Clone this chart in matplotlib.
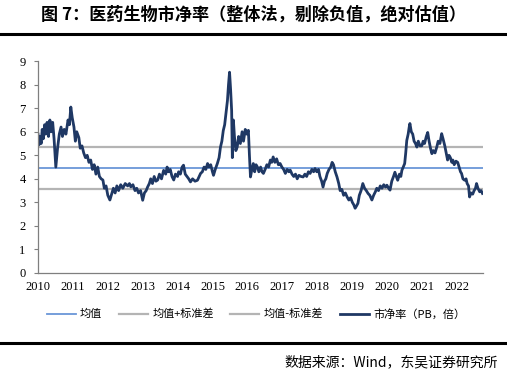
import matplotlib
matplotlib.use("Agg")
import matplotlib.pyplot as plt
from matplotlib.lines import Line2D

plt.rcParams['font.family'] = ['Noto Sans CJK SC', 'DejaVu Sans']

# ---- data ----
years = [
    2010.00, 2010.03, 2010.06, 2010.09, 2010.12, 2010.15, 2010.19, 2010.22, 2010.26, 2010.30,
    2010.34, 2010.38, 2010.42, 2010.46, 2010.51, 2010.56, 2010.61, 2010.66, 2010.70, 2010.75,
    2010.80, 2010.86, 2010.90, 2010.94, 2010.98, 2011.03, 2011.07, 2011.11, 2011.17, 2011.21,
    2011.26, 2011.31, 2011.36, 2011.41, 2011.46, 2011.51, 2011.56, 2011.61, 2011.66, 2011.71,
    2011.76, 2011.81, 2011.86, 2011.90, 2011.95, 2012.00, 2012.06, 2012.11, 2012.16, 2012.21,
    2012.26, 2012.31, 2012.37, 2012.43, 2012.50, 2012.57, 2012.62, 2012.66, 2012.72, 2012.78,
    2012.83, 2012.88, 2012.94, 2013.00, 2013.05, 2013.10, 2013.14, 2013.19, 2013.23, 2013.28,
    2013.33, 2013.38, 2013.43, 2013.48, 2013.54, 2013.60, 2013.66, 2013.70, 2013.74, 2013.79,
    2013.84, 2013.89, 2013.94, 2014.00, 2014.03, 2014.08, 2014.13, 2014.17, 2014.22, 2014.27,
    2014.32, 2014.37, 2014.43, 2014.50, 2014.57, 2014.62, 2014.66, 2014.71, 2014.76, 2014.81,
    2014.86, 2014.90, 2014.95, 2015.00, 2015.03, 2015.08, 2015.14, 2015.19, 2015.23, 2015.27,
    2015.31, 2015.35, 2015.39, 2015.43, 2015.46, 2015.49, 2015.52, 2015.55, 2015.57, 2015.60,
    2015.63, 2015.67, 2015.71, 2015.75, 2015.80, 2015.85, 2015.89, 2015.94, 2015.98, 2016.03,
    2016.06, 2016.09, 2016.13, 2016.17, 2016.21, 2016.25, 2016.29, 2016.33, 2016.38, 2016.42,
    2016.46, 2016.51, 2016.56, 2016.61, 2016.66, 2016.70, 2016.74, 2016.79, 2016.84, 2016.89,
    2016.94, 2016.99, 2017.04, 2017.09, 2017.14, 2017.19, 2017.23, 2017.28, 2017.33, 2017.38,
    2017.43, 2017.48, 2017.54, 2017.60, 2017.65, 2017.70, 2017.75, 2017.80, 2017.85, 2017.90,
    2017.94, 2017.99, 2018.04, 2018.08, 2018.13, 2018.17, 2018.21, 2018.25, 2018.29, 2018.34,
    2018.39, 2018.43, 2018.47, 2018.52, 2018.57, 2018.62, 2018.66, 2018.71, 2018.76, 2018.81,
    2018.86, 2018.91, 2018.96, 2019.01, 2019.05, 2019.09, 2019.13, 2019.17, 2019.21, 2019.26,
    2019.31, 2019.36, 2019.41, 2019.46, 2019.51, 2019.57, 2019.62, 2019.67, 2019.71, 2019.76,
    2019.81, 2019.86, 2019.91, 2019.96, 2020.00, 2020.05, 2020.09, 2020.14, 2020.19, 2020.23,
    2020.27, 2020.31, 2020.36, 2020.40, 2020.43, 2020.47, 2020.51, 2020.54, 2020.57, 2020.61,
    2020.64, 2020.66, 2020.70, 2020.74, 2020.78, 2020.82, 2020.86, 2020.90, 2020.95, 2021.00,
    2021.04, 2021.08, 2021.13, 2021.17, 2021.21, 2021.25, 2021.29, 2021.33, 2021.38, 2021.43,
    2021.47, 2021.52, 2021.57, 2021.61, 2021.66, 2021.70, 2021.74, 2021.78, 2021.82, 2021.86,
    2021.89, 2021.93, 2021.98, 2022.03, 2022.07, 2022.11, 2022.14, 2022.18, 2022.23, 2022.27,
    2022.30, 2022.34, 2022.37, 2022.41, 2022.46, 2022.50, 2022.54, 2022.57, 2022.61, 2022.66,
    2022.70, 2022.74,
]
pb = [
    5.9, 5.45, 5.8, 5.5, 6.1, 5.7, 6.3, 5.9, 6.4, 5.8,
    6.5, 6.0, 6.4, 5.7, 4.5, 5.3, 5.9, 6.2, 5.8, 6.1,
    5.9, 6.5, 6.3, 7.05, 6.6, 6.2, 5.6, 6.0, 5.75, 5.3,
    5.4, 5.1, 4.9, 5.0, 4.7, 4.8, 4.4, 4.6, 4.2, 4.5,
    4.1, 4.0, 3.95, 3.6, 3.7, 3.3, 3.1, 3.35, 3.6, 3.4,
    3.7, 3.5, 3.75, 3.6, 3.8, 3.7, 3.8, 3.66, 3.75, 3.5,
    3.6, 3.4, 3.5, 3.09, 3.4, 3.5, 3.65, 3.8, 4.0, 3.8,
    4.1, 3.9, 3.95, 4.2, 4.0, 4.36, 4.2, 4.5, 4.3, 4.4,
    4.1, 3.95, 4.2, 4.1, 4.3, 4.2, 4.5, 4.58, 4.2, 4.1,
    4.0, 3.87, 4.0, 3.9, 3.94, 4.1, 4.23, 4.3, 4.5, 4.4,
    4.65, 4.5, 4.6, 4.3, 4.15, 4.4, 4.65, 4.9, 5.35, 5.6,
    6.05, 6.3, 6.8, 7.33, 8.0, 8.53, 7.8, 6.9, 4.9, 6.5,
    5.8, 5.2, 5.35, 5.8, 5.5, 6.0, 5.6, 6.1, 5.9, 6.06,
    5.0, 4.08, 4.4, 4.65, 4.3, 4.6, 4.5, 4.3, 4.5, 4.3,
    4.23, 4.4, 4.6, 4.5, 4.8, 4.7, 4.93, 4.7, 4.85, 4.6,
    4.65, 4.5, 4.4, 4.23, 4.4, 4.3, 4.37, 4.2, 4.1, 4.2,
    4.0, 4.15, 4.1, 4.08, 4.2, 4.1, 4.3, 4.23, 4.4, 4.3,
    4.44, 4.3, 4.4, 4.1, 3.9, 3.65, 3.9, 4.0, 4.23, 4.4,
    4.5, 4.7, 4.6, 4.3, 4.08, 3.8, 3.5, 3.55, 3.3, 3.4,
    3.23, 3.1, 3.2, 3.0, 2.9, 2.75, 2.85, 2.96, 3.3, 3.5,
    3.8, 3.6, 3.5, 3.38, 3.3, 3.1, 3.3, 3.45, 3.6, 3.5,
    3.7, 3.6, 3.75, 3.65, 3.73, 3.6, 3.52, 3.9, 4.1, 4.28,
    4.1, 3.94, 4.2, 4.1, 4.36, 4.5, 4.65, 5.1, 5.63, 5.9,
    6.2, 6.35, 6.0, 5.9, 5.6, 5.5, 5.35, 5.6, 5.4, 5.4,
    5.6, 5.5, 5.8, 5.97, 5.6, 5.3, 5.07, 5.2, 5.1, 5.35,
    5.6, 5.5, 5.92, 5.7, 5.4, 5.1, 4.8, 5.0, 4.9, 4.7,
    4.8, 4.6, 4.75, 4.7, 4.5, 4.3, 4.23, 4.0, 3.94, 4.0,
    3.8, 3.7, 3.23, 3.4, 3.35, 3.5, 3.6, 3.8, 3.6, 3.45,
    3.5, 3.38,
]
mean_pb = 4.46
std_pb = 0.90
year_ticks = list(range(2010, 2023))

navy = '#1F3864'
blue = '#6A96D8'
gray = '#B4B4B4'

fig = plt.figure(figsize=(5.07, 3.81), dpi=100)

# title and rules
fig.text(0.5, 0.963, '图 7：医药生物市净率（整体法，剔除负值，绝对估值）',
         ha='center', va='center', fontsize=12.3, fontweight='heavy')
fig.add_artist(Line2D([0, 1], [0.911, 0.911], color='black', lw=2.2))
fig.add_artist(Line2D([0, 1], [0.099, 0.099], color='black', lw=2.2))
fig.text(0.982, 0.049, '数据来源：Wind，东吴证券研究所', ha='right', va='center', fontsize=10)

ax = fig.add_axes([0.075, 0.2835, 0.878, 0.556])
ax.axhline(mean_pb, color=blue, lw=1.3, label='均值')
ax.axhline(mean_pb + std_pb, color=gray, lw=1.6, label='均值+标准差')
ax.axhline(mean_pb - std_pb, color=gray, lw=1.6, label='均值-标准差')
ax.plot(years, pb, color=navy, lw=2.0, label='市净率（PB，倍）')

ax.set_xlim(2010, years[-1] + 0.02)
ax.set_ylim(0, 9)
ax.set_yticks(range(0, 10))
ax.set_xticks(year_ticks)
ax.set_xticklabels([str(y) for y in year_ticks])
for sp in ['top', 'right']:
    ax.spines[sp].set_visible(False)
for sp in ['left', 'bottom']:
    ax.spines[sp].set_color('#7F7F7F')
    ax.spines[sp].set_linewidth(0.9)
ax.tick_params(axis='y', length=3, color='#7F7F7F', pad=6)
ax.tick_params(axis='x', length=0, pad=6)
for lab in ax.get_xticklabels() + ax.get_yticklabels():
    lab.set_family('Liberation Serif')
    lab.set_fontsize(9)

leg = fig.legend(loc='center', bbox_to_anchor=(0.505, 0.176), ncol=4, frameon=False,
                 fontsize=8, handlelength=2.6, handletextpad=0.4, columnspacing=1.5)
for t in leg.get_texts():
    t.set_fontweight('medium')

fig.savefig('out.png', dpi=100)
